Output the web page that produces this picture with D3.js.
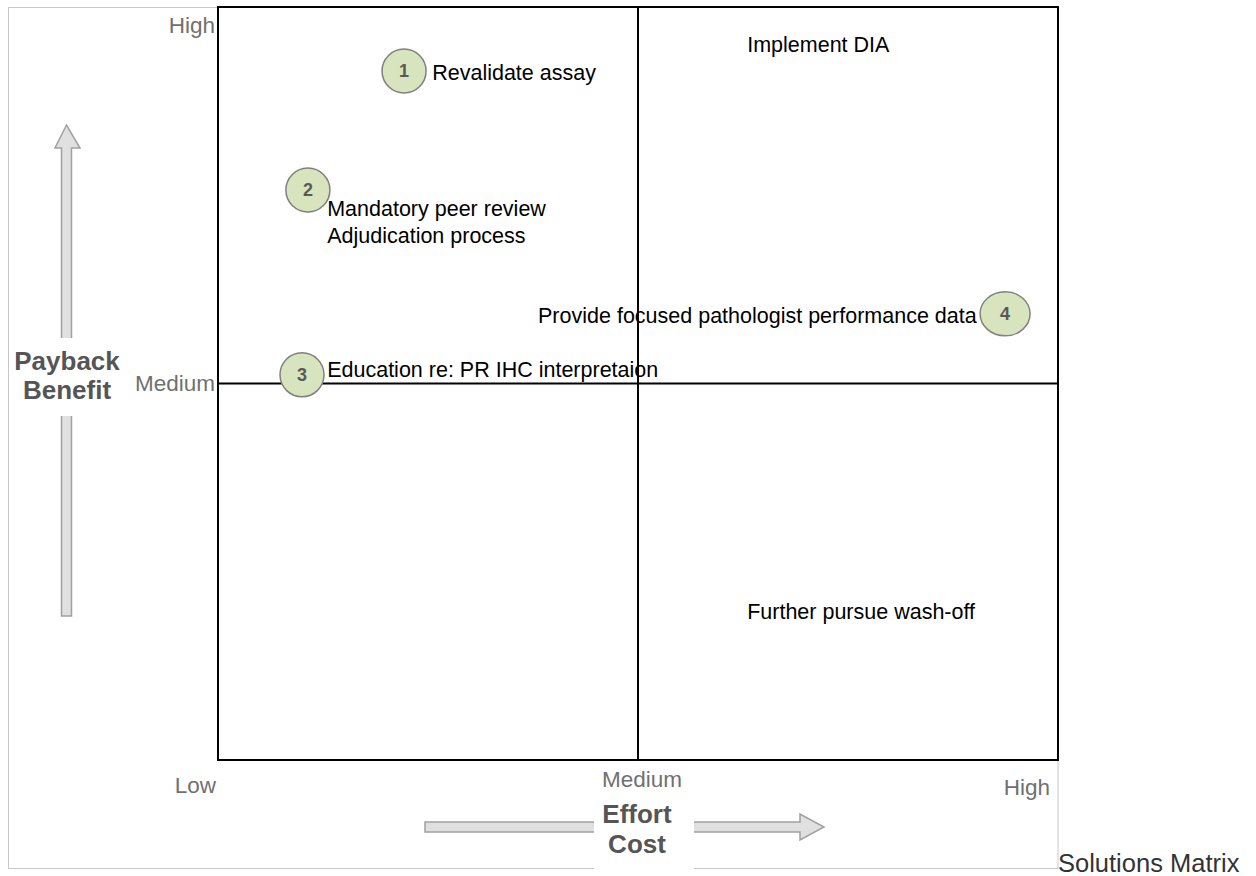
<!DOCTYPE html>
<html>
<head>
<meta charset="utf-8">
<script src="https://cdn.jsdelivr.net/npm/d3@7"></script>
<style>
  body { margin: 0; background: #fff; }
  * { font-family: "Liberation Sans", Arial, Helvetica, sans-serif; }
</style>
</head>
<body>
<div class="container"></div>
<script>
const width = 1256;
const height = 876;

// levels along both axes
const levels = ["Low", "Medium", "High"];

// numbered solutions (effort, benefit) in level units 0..2
const pointIds = ["1", "2", "3", "4"];
const pointEffort = [0.443, 0.214, 0.2, 1.874];
const pointBenefit = [1.83, 1.514, 1.023, 1.185];

// text labels in the matrix (effort, benefit of text start / baseline)
const labelLines = [
  ["Revalidate assay"],
  ["Mandatory peer review", "Adjudication process"],
  ["Education re: PR IHC interpretaion"],
  ["Provide focused pathologist performance data"],
  ["Implement DIA"],
  ["Further pursue wash-off"]
];
const labelEffort = [0.51, 0.26, 0.26, 0.762, 1.26, 1.26];
const labelBenefit = [1.806, 1.445, 1.017, 1.161, 1.88, 0.375];

const svg = d3
  .select(".container")
  .append("svg")
  .attr("width", width)
  .attr("height", height)
  .attr("viewBox", `0 0 ${width} ${height}`);

const x = d3.scaleLinear().domain([0, 2]).range([218, 1058]);
const y = d3.scaleLinear().domain([0, 2]).range([760, 7]);

// outer frame
svg
  .append("rect")
  .attr("x", 8.5)
  .attr("y", 7.5)
  .attr("width", 1049.5)
  .attr("height", 861)
  .attr("fill", "none")
  .attr("stroke", "#c8c8c8")
  .attr("stroke-width", 1);

// vertical arrow
svg
  .append("path")
  .attr("d", "M61.5,616 L61.5,148 L55,148 L66.5,125 L80,148 L71.5,148 L71.5,616 Z")
  .attr("fill", "#e0e0e0")
  .attr("stroke", "#a0a0a0")
  .attr("stroke-width", 1.5);

// horizontal arrow
svg
  .append("path")
  .attr("d", "M425,822 L800,822 L800,814 L824,827 L800,840 L800,832 L425,832 Z")
  .attr("fill", "#e0e0e0")
  .attr("stroke", "#a0a0a0")
  .attr("stroke-width", 1.5);

// label backgrounds that break frame & arrows
svg.append("rect").attr("x", 9).attr("y", 338).attr("width", 118).attr("height", 78).attr("fill", "#fff");
svg.append("rect").attr("x", 594).attr("y", 797).attr("width", 100).attr("height", 79).attr("fill", "#fff");

// matrix box
const grid = svg.append("g").attr("stroke", "#000").attr("stroke-width", 2).attr("fill", "none");
grid
  .append("rect")
  .attr("x", x(0))
  .attr("y", y(2))
  .attr("width", x(2) - x(0))
  .attr("height", y(0) - y(2));
grid.append("line").attr("x1", x(1)).attr("x2", x(1)).attr("y1", y(2)).attr("y2", y(0));
grid.append("line").attr("x1", x(0)).attr("x2", x(2)).attr("y1", y(1)).attr("y2", y(1));

// axis level labels
const tickStyle = (sel) =>
  sel.style("font-size", "22.5px").attr("fill", "#707070");

svg.append("text").call(tickStyle).attr("x", x(0) - 3).attr("y", y(2) + 26).attr("text-anchor", "end").text(levels[2]);
svg.append("text").call(tickStyle).attr("x", x(0) - 3).attr("y", y(1) + 7).attr("text-anchor", "end").text(levels[1]);
svg.append("text").call(tickStyle).attr("x", x(0) - 2).attr("y", 793).attr("text-anchor", "end").text(levels[0]);
svg.append("text").call(tickStyle).attr("x", x(1) + 4).attr("y", 787).attr("text-anchor", "middle").text(levels[1]);
svg.append("text").call(tickStyle).attr("x", x(2) - 8).attr("y", 795).attr("text-anchor", "end").text(levels[2]);

// axis titles
const titleStyle = (sel) =>
  sel.style("font-size", "26px").style("font-weight", "bold").attr("fill", "#555555").attr("text-anchor", "middle");

const yTitle = svg.append("text").call(titleStyle);
yTitle.append("tspan").attr("x", 67).attr("y", 370).text("Payback");
yTitle.append("tspan").attr("x", 67).attr("y", 399).text("Benefit");

const xTitle = svg.append("text").call(titleStyle);
xTitle.append("tspan").attr("x", 637).attr("y", 823).text("Effort");
xTitle.append("tspan").attr("x", 637).attr("y", 853).text("Cost");

// matrix labels
const labels = svg.append("g");
labelLines.forEach((lines, i) => {
  const t = labels
    .append("text")
    .style("font-size", "21.5px")
    .attr("fill", "#000");
  lines.forEach((line, j) => {
    t.append("tspan")
      .attr("x", x(labelEffort[i]))
      .attr("y", y(labelBenefit[i]) + j * 27)
      .text(line);
  });
});

// numbered circles
const pts = svg
  .append("g")
  .selectAll("g")
  .data(pointIds)
  .join("g")
  .attr("transform", (d, i) => `translate(${x(pointEffort[i])},${y(pointBenefit[i])})`);

pts
  .append("ellipse")
  .attr("rx", (d, i) => (i === 3 ? 25 : 22))
  .attr("ry", 22)
  .attr("fill", "#d7e4bd")
  .attr("stroke", "#808080")
  .attr("stroke-width", 1.5);

pts
  .append("text")
  .style("font-size", "18px")
  .style("font-weight", "bold")
  .attr("fill", "#595959")
  .attr("text-anchor", "middle")
  .attr("dy", 6)
  .text((d) => d);

// title
svg
  .append("text")
  .style("font-size", "25.5px")
  .attr("x", 1058)
  .attr("y", 872)
  .attr("fill", "#333333")
  .text("Solutions Matrix");
</script>
</body>
</html>
